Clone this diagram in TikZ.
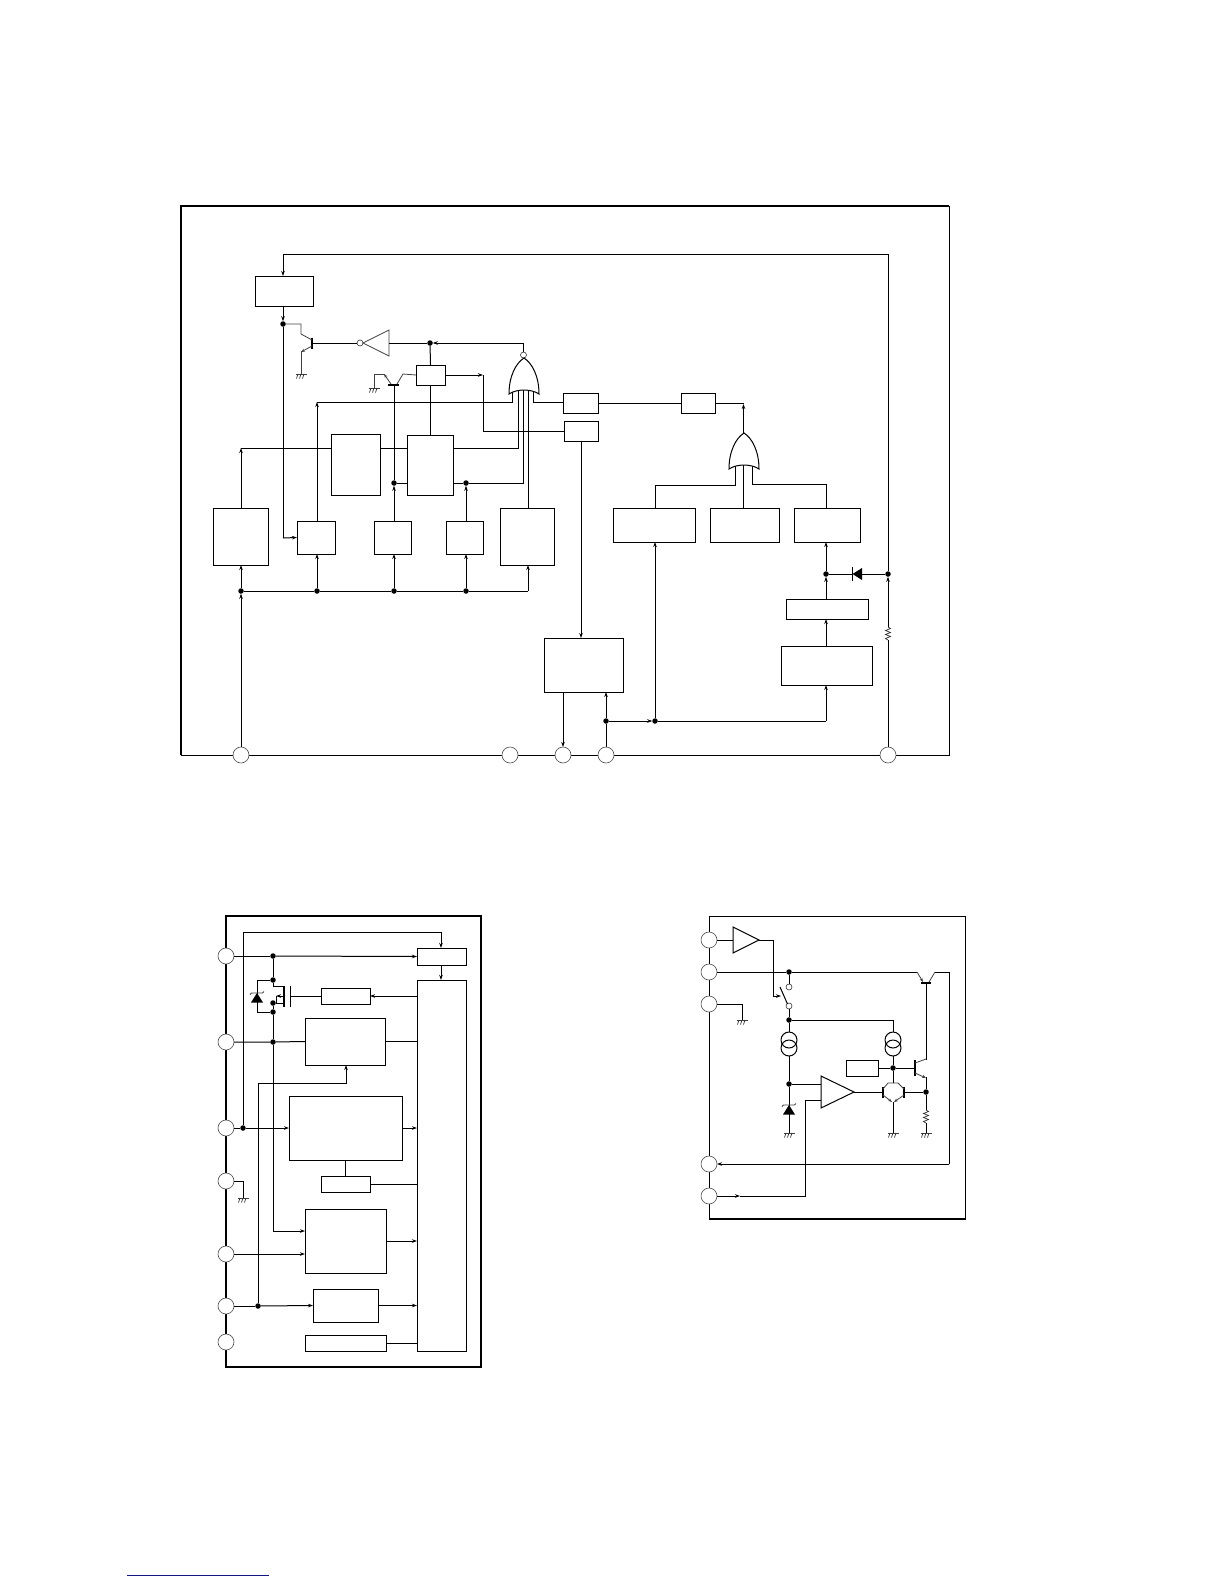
\documentclass[tikz,border=0pt]{standalone}
\usetikzlibrary{arrows.meta}

\definecolor{linkblue}{RGB}{20,20,130}

\tikzset{
  % gate pointing up, apex at the pic origin
  orgate/.pic={
    \draw[wire, fill=white] (0,0) .. controls (-8,5) and (-15,18) .. (-15,36)
      .. controls (-7,30.7) and (7,30.7) .. (15,36)
      .. controls (15,18) and (8,5) .. (0,0) -- cycle;
  },
  gnd/.pic={
    \draw[lead] (-5.5,0) -- (5.5,0);
    \foreach \hx in {-3,0,3} \draw[hair] (\hx,0) -- ++(-1.5,4.5);
  },
  zener/.pic={
    \fill (0,0) -- (6,9.5) -- (-6,9.5) -- cycle;
    \draw[lead] (-7,1.5) -- (-5.5,0) -- (5.5,0) -- (7,-1.5);
  },
  zigzag/.pic={
    \draw[hair] (0,0) -- (2.5,1.5) -- (-2.5,3.5) -- (2.5,5.5) -- (-2.5,7.5) -- (2.5,9.5) -- (-2.5,11.5) -- (0,13);
  }
}

\begin{document}
\begin{tikzpicture}[
  x=1pt, y=-1pt,
  wire/.style={line width=1pt},
  lead/.style={line width=.8pt, draw=black!75},
  hair/.style={line width=.7pt, draw=black!80},
  bar/.style={line width=2pt},
  frameA/.style={line width=2pt},
  frameB/.style={line width=1pt},
  box/.style 2 args={draw, line width=1pt, inner sep=0pt, outer sep=0pt, minimum width=#1pt, minimum height=#2pt},
  arr/.style={wire, -{Stealth[length=5pt, width=3.5pt]}},
  dot/.style={circle, fill=black, inner sep=0pt, outer sep=0pt, minimum size=5.5pt},
  pinn/.style={circle, draw=black!70, line width=.6pt, fill=white, inner sep=0pt, outer sep=0pt, minimum size=16pt},
  bub/.style={circle, draw=black!80, line width=.6pt, fill=white, inner sep=0pt, outer sep=0pt, minimum size=6pt},
  isrc/.style={circle, draw, line width=1pt, inner sep=0pt, outer sep=0pt, minimum size=16pt}
]
\useasboundingbox (0,0) rectangle (1224,1584);

% top block: frame
\draw[frameA] (181,755) -- (181,206) -- (949,206);
\draw[frameB] (949,206) -- (949,755) -- (181,755);

% top block: boxes
\node[box={58}{30}] (ctrl) at (284,291) {};
\node[box={29}{20}] (latch) at (430.5,375) {};
\node[box={49}{61}] (regc) at (355.5,464.5) {};
\node[box={46}{60}] (rege) at (430,465) {};
\node[box={55}{57}] (bias) at (240.5,536.5) {};
\node[box={38}{33}] (detd) at (316,537.5) {};
\node[box={37}{33}] (detg) at (392.5,537.5) {};
\node[box={37}{33}] (deth) at (464.5,537.5) {};
\node[box={54}{57}] (deti) at (527,536.5) {};
\node[box={79}{54}] (osc) at (583.5,665) {};
\node[box={82}{34}] (cmpk) at (654,525) {};
\node[box={69}{34}] (cmpl) at (744.5,525) {};
\node[box={66}{34}] (cmpm) at (827,525) {};
\node[box={82}{20}] (flt) at (827,609) {};
\node[box={91}{39}] (sens) at (826.5,665.5) {};
\node[box={35}{20}] (gatep) at (580.5,403) {};
\node[box={34}{20}] (gateq) at (581,431) {};
\node[box={34}{20}] (gater) at (698,403) {};

% top block: pins
\node[pinn] (pina) at (241,755) {};
\node[pinn] (pinb) at (510,755) {};
\node[pinn] (pinc) at (563,755) {};
\node[pinn] (pind) at (606,755) {};
\node[pinn] (pine) at (888,755) {};

% top block: junctions
\node[dot] (jctl) at (283,324) {};
\node[dot] (jinv) at (430,343) {};
\node[dot] (jg) at (394,483) {};
\node[dot] (jh) at (466,483) {};
\node[dot] (jbusa) at (241,591) {};
\node[dot] (jbusd) at (317,591) {};
\node[dot] (jbusg) at (394,591) {};
\node[dot] (jbush) at (466,591) {};
\node[dot] (jpind) at (606,721) {};
\node[dot] (jcmpk) at (655,721) {};
\node[dot] (jcmpm) at (826,574) {};
\node[dot] (jpine) at (888,574) {};

% top block: gates and inverter
\coordinate (norc) at (524,358);
\coordinate (orc) at (744,433);
\node[bub] (norout) at (523.5,355) {};
\node[bub] (invout) at (360,343) {};
\draw[lead] (363,343) -- (389,330) -- (389,356) -- cycle;

% feedback from pin to control
\draw[arr] (888,627) -- (jpine);
\draw[wire] (pine) -- (888,640);
\draw[wire] (jpine) -- (888,254) -- (283,254);
\draw[arr] (283,254) -- (283,276);
\draw[arr] (jctl |- ctrl.south) -- (jctl);
\draw[wire] (jctl) -- (283,538);
\draw[arr] (283,538) -- (detd.west);

% output transistor
\draw[bar] (312,338) -- (312,349);
\draw[wire] (312,343) -- (invout);
\draw[lead] (jctl) -- (301,324) -- (301,334) -- (312,340);
\draw[lead, -{Stealth[length=4pt, width=3pt]}] (312,346) -- (301,352);
\draw[lead] (301,351) -- (301,374);
\pic at (301,374) {gnd};
\draw[wire] (389,343) -- (jinv);
\draw[wire] (norout) -- (523.5,343) -- (445,343);
\draw[arr] (445,343) -- (jinv);
\draw[wire] (jinv) -- (latch.north);
\draw[wire] (latch.south) -- (rege.north -| latch.south);

% second transistor
\draw[bar] (388,385) -- (399,385);
\draw[lead] (397,384) -- (403,374) -- (latch.west);
\draw[lead, -{Stealth[length=4pt, width=3pt]}] (391,384) -- (384,374);
\draw[lead] (385,374) -- (374,374) -- (374,388);
\pic at (374,388) {gnd};
\draw[wire] (jg) -- (394,385);

% latch to the lower gate box
\draw[wire] (latch.east) -- (478,375);
\draw[arr] (478,375) -- (483,375);
\draw[wire] (483,375) -- (483,431) -- (gateq.west);

% nor inputs
\draw[arr] (detd.north -| jbusd) -- (317,402);
\draw[wire] (317,402) -- (512.5,402) -- (512.5,388);
\draw[wire] (rege.east |- 0,448) -- (518,448) -- (518,385);
\draw[wire] (jh) -- (523,483) -- (523,385);
\draw[wire] (528,385) -- (528,508);
\draw[wire] (533,385) -- (533,402) -- (gatep.west |- 0,402);
\draw[wire] (jh) -- (rege.east |- jh);
\draw[wire] (jg) -- (rege.west |- jg);
\draw[wire] (regc.east |- 0,448) -- (rege.west |- 0,448);
\draw[arr] (bias.north -| jbusa) -- (241,448);
\draw[wire] (241,448) -- (regc.west |- 0,448);
\pic at (norc) {orgate};

% detectors and bus
\draw[arr] (jbusa |- pina.north) -- (jbusa);
\draw[arr] (jbusa) -- (jbusa |- bias.south);
\draw[wire] (jbusa) -- (jbusd) -- (jbusg) -- (jbush) -- (528,591);
\draw[arr] (528,591) -- (528,565);
\draw[arr] (jbusd) -- (jbusd |- detd.south);
\draw[arr] (jbusg) -- (jbusg |- detg.south);
\draw[arr] (jbush) -- (jbush |- deth.south);
\draw[arr] (detg.north -| jg) -- (jg);
\draw[arr] (deth.north -| jh) -- (jh);

% oscillator and right side
\draw[arr] (gateq.south) -- (gateq.south |- osc.north);
\draw[arr] (pinc |- osc.south) -- (pinc.north);
\draw[wire] (pind) -- (jpind);
\draw[arr] (jpind) -- (jpind |- osc.south);
\draw[arr] (jpind) -- (jcmpk);
\draw[wire] (jcmpk) -- (826,721);
\draw[arr] (826,721) -- (826,685);
\draw[arr] (jcmpk) -- (jcmpk |- cmpk.south);
\draw[arr] (826,646) -- (826,619);
\draw[arr] (826,599) -- (jcmpm);
\draw[arr] (jcmpm) -- (826,542);
\draw[wire] (gatep.east) -- (gater.west);
\draw[wire] (gater.east) -- (743.5,403);
\draw[arr] (743.5,433) -- (743.5,404);
\draw[wire] (735,455) -- (735,485) -- (655,485) -- (655,508);
\draw[wire] (743.5,455) -- (743.5,508);
\draw[wire] (752,455) -- (752,484) -- (826,484) -- (826,508);
\pic at (orc) {orgate};

% diode and resistor
\fill (852.5,574) -- (862,568) -- (862,580) -- cycle;
\draw[wire] (852,567) -- (852,581);
\draw[wire] (jcmpm) -- (852,574);
\draw[wire] (862,574) -- (jpine);
\pic at (888,627) {zigzag};

% lower left block: frame
\draw[frameA] (226,916) rectangle (481,1367);

% lower left block: boxes
\node[box={49}{17}] (vrega) at (441.5,956.5) {};
\node[box={49}{371}] (mainb) at (441.5,1165.5) {};
\node[box={49}{16}] (drvc) at (345.5,996) {};
\node[box={80}{47}] (blkd) at (345,1041.5) {};
\node[box={113}{64}] (blke) at (345.5,1128) {};
\node[box={49}{16}] (blkf) at (345.5,1184) {};
\node[box={81}{64}] (blkg) at (345.5,1241) {};
\node[box={65}{33}] (blkh) at (345.5,1305.5) {};
\node[box={81}{16}] (blki) at (345.5,1343) {};

% lower left block: pins
\node[pinn] (lpa) at (226,956) {};
\node[pinn] (lpb) at (226,1042) {};
\node[pinn] (lpc) at (226,1128) {};
\node[pinn] (lpd) at (226,1181) {};
\node[pinn] (lpe) at (226,1254) {};
\node[pinn] (lpf) at (226,1306) {};
\node[pinn] (lpg) at (226,1342) {};

% lower left block: junctions
\node[dot] (ja) at (273,956) {};
\node[dot] (jdr) at (273,980) {};
\node[dot] (jsr) at (273,1003) {};
\node[dot] (jzn) at (273,1012) {};
\node[dot] (jb) at (273,1042) {};
\node[dot] (jc) at (243,1128) {};
\node[dot] (jf) at (258,1306) {};

% lower left block: wires
\draw[wire] (lpa) -- (ja);
\draw[arr] (ja) -- (vrega.west);
\draw[wire] (jc) -- (243,932) -- (441,932);
\draw[arr] (441,932) -- (441,948);
\draw[arr] (441,965) -- (441,980);
\draw[wire] (ja) -- (jdr);
\draw[wire] (jdr) -- (273,986) -- (284,986);
\draw[wire] (jsr) -- (284,1003);
\draw[wire] (jsr) -- (jzn) -- (jb);
\draw[wire] (jb) -- (273,1231);
\draw[arr] (273,1231) -- (blkg.west |- 0,1231);
\draw[wire] (jdr) -- (257,980) -- (257,1012) -- (jzn);
\pic at (257,993) {zener};

% fet
\draw[bar] (284,986) -- (284,1007);
\draw[wire] (290,986) -- (290,1007);
\draw[wire] (290,996) -- (drvc.west);
\draw[arr] (284,996) -- (276,996);
\draw[wire] (276,996) -- (276,1003);
\draw[arr] (mainb.west |- drvc) -- (drvc.east);

\draw[wire] (lpb) -- (jb) -- (blkd.west);
\draw[wire] (blkd.east) -- (mainb.west |- blkd);
\draw[arr] (259,1083) -- (346,1083) -- (346,1065);
\draw[wire] (jf) -- (258,1083) -- (260,1083);
\draw[wire] (lpc) -- (jc);
\draw[arr] (jc) -- (blke.west);
\draw[arr] (blke.east) -- (mainb.west |- blke);
\draw[wire] (blke.south) -- (blkf.north);
\draw[wire] (blkf.east) -- (mainb.west |- blkf);
\draw[wire] (lpd) -- (243,1181) -- (243,1198);
\pic at (243,1198) {gnd};
\draw[arr] (lpe) -- (blkg.west |- lpe);
\draw[arr] (blkg.east) -- (mainb.west |- blkg);
\draw[wire] (lpf) -- (jf);
\draw[arr] (jf) -- (blkh.west);
\draw[arr] (blkh.east) -- (mainb.west |- blkh);
\draw[wire] (blki.east) -- (mainb.west |- blki);

% lower right block: frame
\draw[frameB] (709,916) rectangle (965,1219);
\draw[line width=1.6pt] (709,1219) -- (965,1219);

% lower right block: pins and box
\node[pinn] (rpa) at (709,940) {};
\node[pinn] (rpb) at (709,972) {};
\node[pinn] (rpc) at (709,1004) {};
\node[pinn] (rpd) at (709,1164) {};
\node[pinn] (rpe) at (709,1196) {};
\node[box={32}{16}] (vref) at (862,1068) {};

% lower right block: junctions and parts
\node[dot] (ka) at (789,972) {};
\node[dot] (kb) at (789,1020) {};
\node[dot] (kc) at (789,1084) {};
\node[dot] (kd) at (893,1068) {};
\node[dot] (ke) at (926,1092) {};
\node[bub] (swa) at (789,987) {};
\node[bub] (swb) at (789,1006) {};
\node[isrc] (isa) at (789,1040) {};
\node[isrc] (isb) at (789,1048) {};
\node[isrc] (isc) at (893,1040) {};
\node[isrc] (isd) at (893,1048) {};

% ground pin
\draw[wire] (rpc) -- (742,1004) -- (742,1020);
\pic at (742,1020) {gnd};

% buffer and switch
\draw[wire] (733,927) -- (759,940) -- (733,953) -- cycle;
\draw[wire] (rpa) -- (733,940);
\draw[wire] (759,940) -- (773,940) -- (773,996);
\draw[arr] (773,996) -- (781,996);
\draw[wire] (787.5,1004) -- (780,987);

% supply rail and pass transistor
\draw[wire] (rpb) -- (ka) -- (917,972);
\draw[wire] (ka) -- (swa);
\draw[wire] (swb) -- (kb);
\draw[lead, -{Stealth[length=4pt, width=3pt]}] (917,972) -- (923,982);
\draw[bar] (921,983) -- (931,983);
\draw[lead] (929,982) -- (935,972);
\draw[wire] (935,972) -- (949,972) -- (949,1164);
\draw[arr] (949,1164) -- (rpd);

% current sources
\draw[wire] (kb) -- (isa);
\draw[wire] (kb) -- (893,1020) -- (isc);
\draw[wire] (isb) -- (kc);
\draw[wire] (isd) -- (kd);

% reference and amplifier
\draw[wire] (kc) -- (789,1133);
\pic at (789,1105) {zener};
\pic at (789,1133) {gnd};
\draw[wire] (kc) -- (821,1084);
\draw[wire] (821,1076) -- (854,1092) -- (821,1108) -- cycle;
\draw[wire] (821,1100) -- (805,1100) -- (805,1196) -- (740,1196);
\draw[arr] (rpe) -- (740,1196);
\draw[wire] (854,1092) -- (883,1092);

% transistor pair
\draw[bar] (883,1087) -- (883,1098);
\draw[bar] (904,1087) -- (904,1098);
\draw[lead] (883,1089) -- (888,1083) -- (898,1083) -- (904,1089);
\draw[lead, -{Stealth[length=4pt, width=3pt]}] (883,1095) -- (892,1102);
\draw[lead, -{Stealth[length=4pt, width=3pt]}] (904,1095) -- (894,1102);
\draw[wire] (kd) -- (893,1083);
\draw[wire] (893,1102) -- (893,1133);
\pic at (893,1133) {gnd};
\draw[wire] (904,1092) -- (ke);

% sense transistor
\draw[wire] (vref.east) -- (kd) -- (915,1068);
\draw[bar] (915,1060) -- (915,1076);
\draw[lead] (915,1063) -- (926,1059);
\draw[wire] (926,1060) -- (926,983);
\draw[lead, -{Stealth[length=4pt, width=3pt]}] (915,1073) -- (926,1078);
\draw[wire] (926,1077) -- (ke);
\draw[wire] (ke) -- (926,1110);
\pic at (926,1110) {zigzag};
\draw[wire] (926,1123) -- (926,1133);
\pic at (926,1133) {gnd};

% rule at the page foot
\draw[line width=1pt, linkblue] (127,1575) -- (269,1575);

\end{tikzpicture}
\end{document}
